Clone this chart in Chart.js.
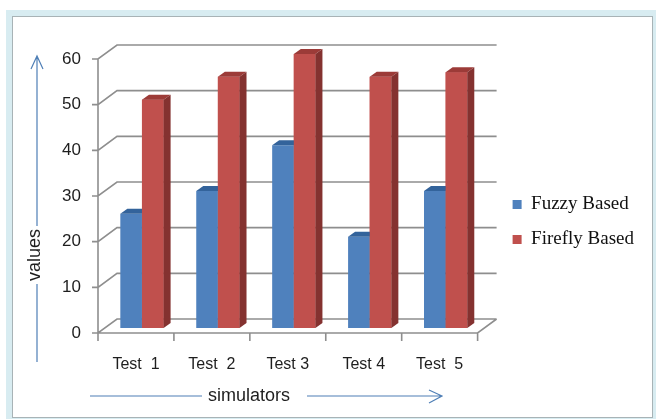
<!DOCTYPE html>
<html>
<head>
<meta charset="utf-8">
<script src="https://cdn.jsdelivr.net/npm/chart.js@4.4.1/dist/chart.umd.min.js"></script>
<style>
  html, body { margin: 0; padding: 0; background: #fff; overflow: hidden; }
  #frame {
    position: absolute; left: 12px; top: 16px; width: 639px; height: 400px;
    border: 1px solid #a8b3b6; box-shadow: 0 0 0 6px #d8ecf1;
  }
  #wrap { position: absolute; left: 0; top: 0; width: 656px; height: 419px; }
</style>
</head>
<body>
<div id="frame"></div>
<div id="wrap"><canvas id="myChart" width="656" height="419"></canvas></div>
<script>
const categories = ['Test  1', 'Test  2', 'Test 3', 'Test 4', 'Test  5'];
const fuzzyValues = [25, 30, 40, 20, 30];
const fireflyValues = [50, 55, 60, 55, 56];
const yTicks = [0, 10, 20, 30, 40, 50, 60];

const gridColor = '#8e8e8e';
const arrowColor = '#4f7fb6';
const wallShift = { dx: 19, dy: -14 };  // back wall offset
const barShift = { dx: 6, dy: -5 };     // bars sit a bit inside the floor
const barDepth = { dx: 7, dy: -5 };     // thickness of each column

const faces = [
  { front: '#4f81bd', top: '#33639b', side: '#2f5584' },
  { front: '#c0504d', top: '#9c3b38', side: '#843230' }
];

let poly = (ctx, pts) => {
  ctx.beginPath();
  ctx.moveTo(pts[0][0], pts[0][1]);
  for (let i = 1; i < pts.length; i++) ctx.lineTo(pts[i][0], pts[i][1]);
  ctx.closePath();
  ctx.fill();
};

const wall3d = {
  id: 'wall3d',
  afterLayout(chart) {
    // legend sits a little away from the plot, like in the original
    let lg = chart.legend;
    lg.left += 19;
    lg.right += 19;
    lg.top -= 17;
    lg.bottom -= 17;
  },
  beforeDatasetsDraw(chart) {
    let { ctx, chartArea: a, scales: { y } } = chart;
    ctx.save();
    ctx.strokeStyle = gridColor;
    ctx.lineWidth = 1.6;
    ctx.beginPath();
    yTicks.forEach(v => {
      let py = y.getPixelForValue(v);
      ctx.moveTo(a.left - 6, py);
      ctx.lineTo(a.left, py);
      ctx.lineTo(a.left + wallShift.dx, py + wallShift.dy);
      ctx.lineTo(a.right + wallShift.dx, py + wallShift.dy);
    });
    ctx.moveTo(a.left, y.getPixelForValue(60));
    ctx.lineTo(a.left, a.bottom);
    ctx.lineTo(a.right, a.bottom);
    ctx.lineTo(a.right + wallShift.dx, a.bottom + wallShift.dy);
    let step = (a.right - a.left) / categories.length;
    for (let i = 0; i <= categories.length; i++) {
      ctx.moveTo(a.left + step * i, a.bottom);
      ctx.lineTo(a.left + step * i, a.bottom + 8);
    }
    ctx.stroke();
    ctx.restore();

    ctx.save();
    ctx.translate(barShift.dx, barShift.dy);
  },
  afterDatasetsDraw(chart) {
    let ctx = chart.ctx;
    chart.data.datasets.forEach((ds, i) => {
      chart.getDatasetMeta(i).data.forEach(bar => {
        let p = bar.getProps(['x', 'y', 'base', 'width'], true);
        let l = p.x - p.width / 2, r = p.x + p.width / 2;
        let c = faces[i];
        if (i > 0) {
          ctx.fillStyle = c.front;
          ctx.fillRect(l, p.y, r - l, p.base - p.y);
        }
        ctx.fillStyle = c.top;
        poly(ctx, [[l, p.y], [l + barDepth.dx, p.y + barDepth.dy], [r + barDepth.dx, p.y + barDepth.dy], [r, p.y]]);
        ctx.fillStyle = c.side;
        poly(ctx, [[r, p.y], [r + barDepth.dx, p.y + barDepth.dy], [r + barDepth.dx, p.base + barDepth.dy], [r, p.base]]);
      });
    });
    ctx.restore();
  },
  afterDraw(chart) {
    let ctx = chart.ctx;
    ctx.save();
    ctx.fillStyle = '#1e1e1e';
    ctx.textAlign = 'center';
    ctx.textBaseline = 'middle';
    ctx.font = '18px "Liberation Sans"';
    ctx.fillText('simulators', 249, 396);
    ctx.translate(35, 255);
    ctx.rotate(-Math.PI / 2);
    ctx.fillText('values', 0, 0);
    ctx.restore();

    ctx.save();
    ctx.strokeStyle = arrowColor;
    ctx.lineWidth = 1.2;
    ctx.beginPath();
    ctx.moveTo(37, 56); ctx.lineTo(37, 226);
    ctx.moveTo(37, 284); ctx.lineTo(37, 362);
    ctx.moveTo(31, 69); ctx.lineTo(37, 56); ctx.lineTo(43, 69);
    ctx.moveTo(90, 396); ctx.lineTo(202, 396);
    ctx.moveTo(307, 396); ctx.lineTo(442, 396);
    ctx.moveTo(429, 390); ctx.lineTo(442, 396); ctx.lineTo(429, 403);
    ctx.stroke();
    ctx.restore();
  }
};

let ctx = document.getElementById('myChart').getContext('2d');
let myChart = new Chart(ctx, {
  type: 'bar',
  data: {
    labels: categories,
    datasets: [{
      label: 'Fuzzy Based',
      data: fuzzyValues,
      backgroundColor: faces[0].front,
      clip: false
    }, {
      label: 'Firefly Based',
      data: fireflyValues,
      backgroundColor: faces[1].front,
      clip: false
    }]
  },
  options: {
    responsive: false,
    animation: false,
    categoryPercentage: 0.57,
    barPercentage: 1.0,
    layout: { padding: { top: 59, left: 0, right: 31, bottom: 0 } },
    scales: {
      x: {
        grid: { display: false, drawTicks: false },
        border: { display: false },
        ticks: { padding: 22, color: '#1e1e1e', font: { family: 'Liberation Sans', size: 16 } },
        afterFit: s => { s.height = 86; }
      },
      y: {
        min: 0,
        max: 60,
        grid: { display: false, drawTicks: false },
        border: { display: false },
        ticks: { stepSize: 10, padding: 17, color: '#1e1e1e', font: { family: 'Liberation Sans', size: 17 } },
        afterFit: s => { s.width = 98; }
      }
    },
    plugins: {
      legend: {
        position: 'right',
        align: 'center',
        labels: {
          boxWidth: 9,
          boxHeight: 9,
          padding: 16,
          color: '#111',
          font: { family: 'Liberation Serif', size: 19 }
        }
      },
      tooltip: { enabled: false }
    }
  },
  plugins: [wall3d]
});
</script>
</body>
</html>
